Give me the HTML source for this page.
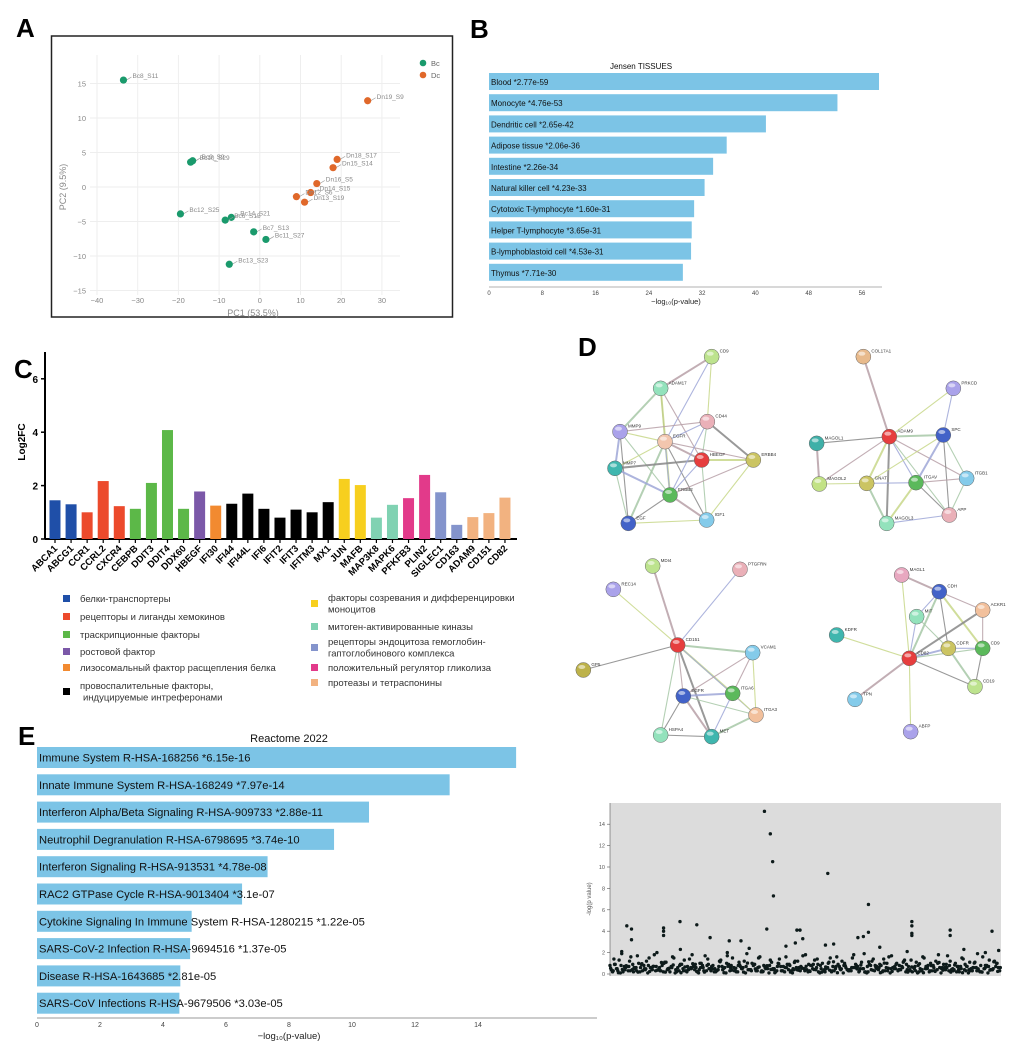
<!DOCTYPE html>
<html><head><meta charset="utf-8">
<style>
html,body{margin:0;padding:0;background:#fff;}
svg{display:block;font-family:"Liberation Sans","DejaVu Sans",sans-serif;}
</style></head>
<body>
<svg id="fig" width="1029" height="1055" viewBox="0 0 1029 1055" xmlns="http://www.w3.org/2000/svg">
<rect width="1029" height="1055" fill="#fff"/>
<g font-weight="bold" font-size="26" fill="#000">
<text x="16" y="37">A</text>
<text x="470" y="38">B</text>
<text x="14" y="378">C</text>
<text x="578" y="356">D</text>
<text x="18" y="745">E</text>
</g>
<g id="pA"></g>
<g id="pB"></g>
<g id="pC"></g>
<g id="pD"></g>
<g id="pE"></g>
<g id="pF"></g>
</svg>
<script>
// ---------- Panel A data ----------
const pcaNames = ["Bc8_S11","Bc10_S29","Bc9_S9","Bc12_S25","Bc14_S21","Bc6_S15","Bc7_S13","Bc11_S27","Bc13_S23","Dn19_S9","Dn18_S17","Dn15_S14","Dn16_S5","Dn14_S15","Dn12_S6","Dn13_S19"];
const pcaX = [-33.5,-17,-16.5,-19.5,-7,-8.5,-1.5,1.5,-7.5,26.5,19,18,14,12.5,9,11];
const pcaY = [15.5,3.6,3.8,-3.9,-4.4,-4.8,-6.5,-7.6,-11.2,12.5,4,2.8,0.5,-0.8,-1.4,-2.2];
const pcaGroup = ["Bc","Bc","Bc","Bc","Bc","Bc","Bc","Bc","Bc","Dc","Dc","Dc","Dc","Dc","Dc","Dc"];
const pcaXTicks = [-40,-30,-20,-10,0,10,20,30];
const pcaYTicks = [-15,-10,-5,0,5,10,15];
// ---------- Panel B data ----------
const tisNames = ["Blood","Monocyte","Dendritic cell","Adipose tissue","Intestine","Natural killer cell","Cytotoxic T-lymphocyte","Helper T-lymphocyte","B-lymphoblastoid cell","Thymus"];
const tisP = ["2.77e-59","4.76e-53","2.65e-42","2.06e-36","2.26e-34","4.23e-33","1.60e-31","3.65e-31","4.53e-31","7.71e-30"];
const tisVal = [58.56,52.32,41.58,35.69,33.65,32.37,30.80,30.44,30.34,29.11];
const tisTicks = [0,8,16,24,32,40,48,56];
// ---------- Panel C data ----------
const genes = ["ABCA1","ABCG1","CCR1","CCRL2","CXCR4","CEBPB","DDIT3","DDIT4","DDX60","HBEGF","IFI30","IFI44","IFI44L","IFI6","IFIT2","IFIT3","IFITM3","MX1","JUN","MAFB","MAP3K8","MAPK6","PFKFB3","PLIN2","SIGLEC1","CD163","ADAM9","CD151","CD82"];
const log2fc = [1.45,1.3,1.0,2.17,1.23,1.13,2.1,4.08,1.13,1.78,1.25,1.32,1.7,1.13,0.8,1.1,1.0,1.38,2.25,2.02,0.8,1.28,1.53,2.4,1.75,0.53,0.82,0.97,1.55];
const geneCat = [0,0,1,1,1,2,2,2,2,3,4,5,5,5,5,5,5,5,6,6,7,7,9,9,8,8,10,10,10];
const catColors = ["#1f4fa8","#ec4a2c","#5cb848","#7b58a8","#f28a30","#000000","#f7cf1e","#80d2b2","#8494cc","#e23a8a","#f2b280"];
const catLabels = [["белки-транспортеры"],["рецепторы и лиганды хемокинов"],["траскрипционные факторы"],["ростовой фактор"],["лизосомальный фактор расщепления белка"],["провоспалительные факторы,","индуцируемые интреферонами"],["факторы созревания и дифференцировки","моноцитов"],["митоген-активированные киназы"],["рецепторы эндоцитоза гемоглобин-","гаптоглобинового комплекса"],["положительный регулятор гликолиза"],["протеазы и тетраспонины"]];
const cTicks = [0,2,4,6];
// ---------- Panel E data ----------
const reNames = ["Immune System R-HSA-168256","Innate Immune System R-HSA-168249","Interferon Alpha/Beta Signaling R-HSA-909733","Neutrophil Degranulation R-HSA-6798695","Interferon Signaling R-HSA-913531","RAC2 GTPase Cycle R-HSA-9013404","Cytokine Signaling In Immune System R-HSA-1280215","SARS-CoV-2 Infection R-HSA-9694516","Disease R-HSA-1643685","SARS-CoV Infections R-HSA-9679506"];
const reP = ["6.15e-16","7.97e-14","2.88e-11","3.74e-10","4.78e-08","3.1e-07","1.22e-05","1.37e-05","2.81e-05","3.03e-05"];
const reVal = [15.21,13.10,10.54,9.43,7.32,6.51,4.91,4.86,4.55,4.52];
const reTicks = [0,2,4,6,8,10,12,14];
// ---------- Panel F data ----------
const hiPos = [395,410,416,418,557,661,43,55,55,137,137,137,179,222,256,305,335,356,401,478,486,493,474,661,772,772,772,772,870,870,977,994,634,648,551,572,30,180,300,450,690,760,905,960];
const hiVal = [15.2,13.1,10.5,7.3,9.4,6.5,4.5,4.2,3.2,4.3,4.0,3.6,4.9,4.6,3.4,3.1,3.1,2.4,4.2,4.1,4.1,3.3,2.9,3.9,4.5,4.9,3.6,3.8,4.1,3.6,4.0,2.2,3.4,3.5,2.7,2.8,2.1,2.3,2.0,2.6,2.5,2.1,2.3,2.0];
const bgA = [0.8,1.4,0.3,1.9,0.6,1.2,0.2,1.7,0.9,0.4,1.5,0.7,2.0,0.3,1.1,0.5,1.6,0.2,0.9,1.3,0.4,1.8,0.6,1.0,0.3,1.4,0.7,0.2,1.2,0.5,1.7,0.8,0.3,1.1,0.6,1.9,0.4,0.9,1.5,0.2,0.7,1.3,0.5,1.0,0.3,1.6,0.8,0.4,1.2,0.6,1.8,0.3,0.9,1.4,0.5,0.2,1.1,0.7,1.6,0.4,1.0,0.3,1.5,0.8,0.5,1.9,0.2,1.2,0.6,0.9,1.4,0.3,1.7,0.5,0.8,1.1,0.4,1.3,0.7,0.2,1.6,0.5,1.0,0.3,1.8,0.6,0.9,1.2,0.4,0.7,1.5,0.3,1.1,0.6,1.9,0.2,0.8,1.3,0.5,1.0];
const bgB = [0.4,0.9,1.3,0.2,0.7,1.6,0.5,1.0,0.3,1.2,0.6,1.8,0.4,0.8,1.1,0.2,1.5,0.6,0.9,0.3,1.4,0.7,0.2,1.0,1.7,0.5,0.8,0.3,1.3,0.6,0.9,1.5,0.2,0.7,1.2,0.4,1.0,0.3,1.6,0.8,0.5,1.1,0.2,1.4,0.7,0.9,0.3,1.2,0.6,1.7,0.4,0.8,1.3,0.2,1.0,0.5,1.5,0.3,0.9,1.2,0.6,0.4,1.8,0.7,1.1,0.2,0.9,1.4,0.5,0.8,0.3,1.6,0.6,1.0,0.4,1.3,0.7,0.2,1.1,0.5,1.5,0.8,0.3,1.2,0.6,0.9,1.7,0.4,1.0,0.2,1.4,0.7,0.5,1.1,0.3,1.6,0.8,0.4,1.2,0.6];
const bgC = [0.2,0.5,0.1,0.7,0.3,0.4,0.6,0.2,0.8,0.1,0.5,0.3,0.6,0.2,0.4,0.7,0.1,0.3,0.5,0.2,0.6,0.4,0.1,0.8,0.3,0.5,0.2,0.4,0.7,0.1,0.3,0.6,0.2,0.5,0.1,0.4,0.8,0.3,0.2,0.6,0.1,0.5,0.3,0.7,0.2,0.4,0.1,0.6,0.3,0.5,0.2,0.8,0.4,0.1,0.3,0.6,0.2,0.5,0.7,0.1,0.4,0.3,0.6,0.2,0.5,0.1,0.8,0.3,0.4,0.2,0.6,0.1,0.5,0.3,0.7,0.2,0.4,0.6,0.1,0.3,0.5,0.2,0.8,0.4,0.1,0.6,0.3,0.5,0.2,0.7,0.4,0.1,0.3,0.6,0.2,0.5,0.1,0.4,0.7,0.3];
const fTicks = [0,2,4,6,8,10,12,14];

const NS="http://www.w3.org/2000/svg";
function mk(parent,tag,attrs,txt){const e=document.createElementNS(NS,tag);for(const k in attrs)e.setAttribute(k,attrs[k]);if(txt!==undefined)e.textContent=txt;parent.appendChild(e);return e;}

// ===== Panel A =====
(function(){
const g=document.getElementById('pA');
const sx=v=>97+(v+40)*4.07, sy=v=>187-v*6.9;
let r=mk(g,'rect',{x:51.5,y:36,width:401,height:281,fill:'#fff',stroke:'#222','stroke-width':1.5});


pcaXTicks.forEach(t=>{mk(g,'line',{x1:sx(t),x2:sx(t),y1:55,y2:295,stroke:'#eee'});
 let tl=mk(g,'text',{x:sx(t),y:303,'font-size':7.5,fill:'#888','text-anchor':'middle'},String(t).replace('-','−'));
 
 });
pcaYTicks.forEach(t=>{mk(g,'line',{x1:90,x2:400,y1:sy(t),y2:sy(t),stroke:'#eee'});
 let tl=mk(g,'text',{x:86,y:sy(t)+3,'font-size':7.5,fill:'#888','text-anchor':'end'},String(t).replace('-','−'));
 
 });
let xt=mk(g,'text',{x:253,y:316,'font-size':9,fill:'#888','text-anchor':'middle'},'PC1 (53.5%)');


let yt=mk(g,'text',{x:0,y:0,'font-size':9,fill:'#888','text-anchor':'middle',transform:'translate(66,187) rotate(-90)'},'PC2 (9.5%)');


pcaX.forEach((v,i)=>{const c=pcaGroup[i]==='Bc'?'#1a9a6c':'#e0682a';
 const px=sx(v),py=sy(pcaY[i]);
 mk(g,'line',{x1:px+3,y1:py,x2:px+8,y2:py-3,stroke:'#999','stroke-width':0.6});
 let p=mk(g,'circle',{cx:px,cy:py,r:3.6,fill:c});
 
 
 let l=mk(g,'text',{x:px+9,y:py-2,'font-size':6.5,fill:'#888'},pcaNames[i]);
 
 });
[['Bc','#1a9a6c',63],['Dc','#e0682a',75]].forEach(a=>{
 let c=mk(g,'circle',{cx:423,cy:a[2],r:3.3,fill:a[1]});
 
 
 let t=mk(g,'text',{x:431,y:a[2]+3,'font-size':7.5,fill:'#666'},a[0]);
 
 });
})();

// ===== Panel B =====
(function(){
const g=document.getElementById('pB');
const sx=v=>489+v*6.66, top=73, pitch=21.2, bh=17;
let t=mk(g,'text',{x:641,y:69,'font-size':8,'text-anchor':'middle',fill:'#111'},'Jensen TISSUES');


tisVal.forEach((v,i)=>{const y=top+i*pitch;
 let b=mk(g,'rect',{x:489,y:y,width:sx(v)-489,height:bh,fill:'#7cc4e6'});
 
 
 let l=mk(g,'text',{x:491,y:y+12,'font-size':8,fill:'#111'},tisNames[i]+'  *'+tisP[i]);
 
 });
mk(g,'line',{x1:489,x2:882,y1:287,y2:287,stroke:'#666','stroke-width':0.6});
tisTicks.forEach(v=>{let tl=mk(g,'text',{x:sx(v),y:295,'font-size':6,fill:'#444','text-anchor':'middle'},v);
 
 });
let xl=mk(g,'text',{x:676,y:304,'font-size':7.5,fill:'#222','text-anchor':'middle'},'−log₁₀(p-value)');


})();

// ===== Panel C =====
(function(){
const g=document.getElementById('pC');
const y0=539, k=26.7, sx=i=>55+i*16.07, bw=11;
mk(g,'line',{x1:45,x2:45,y1:352,y2:539,stroke:'#000','stroke-width':2});
mk(g,'line',{x1:45,x2:517,y1:539,y2:539,stroke:'#000','stroke-width':2});
cTicks.forEach(v=>{mk(g,'line',{x1:41,x2:45,y1:y0-v*k,y2:y0-v*k,stroke:'#000','stroke-width':1.5});
 let tl=mk(g,'text',{x:38,y:y0-v*k+4,'font-size':10,'font-weight':'bold','text-anchor':'end'},v);
 
 });
let yt=mk(g,'text',{x:0,y:0,'font-size':10,'font-weight':'bold','text-anchor':'middle',transform:'translate(25,442) rotate(-90)'},'Log2FC');


log2fc.forEach((v,i)=>{
 let b=mk(g,'rect',{x:sx(i)-bw/2,y:y0-v*k,width:bw,height:v*k,fill:catColors[geneCat[i]]});
 
 
 mk(g,'line',{x1:sx(i),x2:sx(i),y1:539,y2:543,stroke:'#000','stroke-width':1.2});
 let l=mk(g,'text',{x:0,y:0,'font-size':9.5,'font-weight':'bold','text-anchor':'end',transform:`translate(${sx(i)+3},${549}) rotate(-45)`},genes[i]);
 
 });
const leftY=[599,617,635,652,668,686], rightY=[598,627,642,668,683];
const leftCats=[0,1,2,3,4,5], rightCats=[6,7,8,9,10];
function legend(cats,ys,sqx,tx){cats.forEach((c,j)=>{const lines=catLabels[c];const y=ys[j];
 const sqy= lines.length>1? y+2 : y-4;
 let s=mk(g,'rect',{x:sqx,y:sqy,width:7,height:7,fill:catColors[c]});
 
 
 lines.forEach((ln,m)=>{let t=mk(g,'text',{x:tx+(m>0&&c===5?3:0),y:y+3+m*11.5,'font-size':9.5,fill:'#333'},ln);
  
  });});}
legend(leftCats,leftY,63,80);
legend(rightCats,rightY,311,328);
})();

// ===== Panel D =====
(function(){
const g=document.getElementById('pD');
const Z=(x,y)=>[570+x/3,340+y/3];
const nets=[
 {n:[["CD9",425,50,"#bde38e"],["ADAM17",272,145,"#93e2bc"],["CD44",412,245,"#eab0b8"],["MMP9",150,275,"#aaa2ea"],["EGFR",285,305,"#f2c6ae"],["HBEGF",395,360,"#e63e3e"],["ERBB4",550,360,"#cbc462"],["MMP7",135,385,"#3fb6ae"],["ERBB2",300,465,"#5bb95b"],["EGF",175,550,"#4262c8"],["IGF1",410,540,"#84cbea"]],
  e:[[0,1],[0,2],[0,4],[1,3],[1,4],[1,5],[1,8],[2,4],[2,5],[2,6],[2,3],[3,4],[3,7],[3,8],[3,9],[4,5],[4,7],[4,8],[4,9],[4,10],[4,6],[5,6],[5,8],[5,10],[5,7],[6,8],[6,10],[7,8],[7,9],[8,9],[8,10],[9,10],[2,8]]},
 {n:[["COL17A1",880,50,"#e8ba8c"],["PRKCD",1150,145,"#aaa2ea"],["ADAM9",958,290,"#e63e3e"],["SPC",1120,285,"#4262c8"],["MAGOL1",740,310,"#3fb0a8"],["ITGB1",1190,415,"#84cbea"],["MAGOL2",748,432,"#c2e285"],["GNAT",890,430,"#cbc462"],["ITGAV",1038,428,"#5bb95b"],["APP",1138,525,"#eab0b8"],["MAGOL3",950,550,"#93e2bc"]],
  e:[[0,2],[1,2],[1,3],[2,3],[2,4],[2,6],[2,7],[2,8],[2,9],[2,10],[2,5],[3,7],[3,8],[3,5],[3,9],[4,6],[6,7],[7,8],[7,10],[8,9],[8,5],[8,10],[10,9],[5,9]]},
 {n:[["MDI4",248,678,"#bde38e"],["REC14",130,748,"#aaa2ea"],["PTGFRN",510,688,"#eab0b8"],["CD151",323,915,"#e63e3e"],["VCAM1",548,938,"#84cbea"],["GP5",40,990,"#bdb24a"],["EGFR",340,1068,"#4262c8"],["ITGA6",488,1060,"#5bb95b"],["ITGA3",558,1125,"#f2c09c"],["HSPA4",272,1185,"#93e2bc"],["MET",425,1190,"#3fb6ae"]],
  e:[[0,3],[1,3],[2,3],[3,4],[3,5],[3,6],[3,7],[3,8],[3,9],[3,10],[4,7],[4,8],[6,7],[6,8],[6,9],[6,10],[7,8],[7,10],[8,10],[9,10],[4,6]]},
 {n:[["MAGL1",995,705,"#e8a8c0"],["CDH",1108,755,"#4262c8"],["MIT",1040,830,"#93e2bc"],["ACKR1",1238,810,"#f2c09c"],["KDFR",800,885,"#3fb6ae"],["CD82",1018,955,"#e63e3e"],["CDFR",1135,925,"#cbc462"],["CD9",1238,925,"#5bb95b"],["CD19",1215,1040,"#bde38e"],["TPN",855,1078,"#84cbea"],["ABFP",1022,1175,"#aaa2ea"]],
  e:[[0,1],[0,5],[1,2],[1,5],[1,6],[1,3],[1,7],[2,5],[2,6],[3,5],[3,7],[4,5],[5,6],[5,7],[5,8],[5,9],[5,10],[6,7],[6,8],[7,8]]}
];
const ecol=["#b8a0a8","#c8d88a","#9fa8d8","#a8c8a8","#888"];
nets.forEach((net,ni)=>{
 const grp=mk(g,'g',{});
 
 
 net.e.forEach((ed,j)=>{const a=Z(net.n[ed[0]][1],net.n[ed[0]][2]),b=Z(net.n[ed[1]][1],net.n[ed[1]][2]);
  let l=mk(grp,'line',{x1:a[0],y1:a[1],x2:b[0],y2:b[1],stroke:ecol[j%5],'stroke-width':j%3===0?2:1.1,opacity:0.85});
  
  });
 net.n.forEach(nd=>{const p=Z(nd[1],nd[2]);
  let c=mk(grp,'circle',{cx:p[0],cy:p[1],r:7.5,fill:nd[3],stroke:'#666','stroke-width':0.5});
  
  
  mk(grp,'ellipse',{cx:p[0]-1.5,cy:p[1]-3,rx:3.5,ry:2,fill:'#fff',opacity:0.55});
  let t=mk(grp,'text',{x:p[0]+8,y:p[1]-4,'font-size':4.5,fill:'#333'},nd[0]);
  
  });
});
})();

// ===== Panel E =====
(function(){
const g=document.getElementById('pE');
const sx=v=>37+v*31.5, top=747, pitch=27.3, bh=21;
let t=mk(g,'text',{x:289,y:742,'font-size':11,'text-anchor':'middle',fill:'#111'},'Reactome 2022');


reVal.forEach((v,i)=>{const y=top+i*pitch;
 let b=mk(g,'rect',{x:37,y:y,width:sx(v)-37,height:bh,fill:'#7cc4e6'});
 
 
 let l=mk(g,'text',{x:39,y:y+14.5,'font-size':11.2,fill:'#111'},reNames[i]+'  *'+reP[i]);
 
 });
mk(g,'line',{x1:37,x2:597,y1:1018,y2:1018,stroke:'#777','stroke-width':0.7});
reTicks.forEach(v=>{let tl=mk(g,'text',{x:sx(v),y:1027,'font-size':7,fill:'#444','text-anchor':'middle'},v);
 
 });
let xl=mk(g,'text',{x:289,y:1039,'font-size':9.5,fill:'#222','text-anchor':'middle'},'−log₁₀(p-value)');


})();

// ===== Panel F =====
(function(){
const g=document.getElementById('pF');
const sx=p=>610+p/1000*391, sy=v=>974-v*10.7;
let bg=mk(g,'rect',{x:610,y:803,width:391,height:173,fill:'#dcdcdc'});


mk(g,'line',{x1:610,x2:610,y1:803,y2:976,stroke:'#555','stroke-width':0.6});
fTicks.forEach(v=>{mk(g,'line',{x1:607,x2:610,y1:sy(v),y2:sy(v),stroke:'#555','stroke-width':0.6});
 let tl=mk(g,'text',{x:605,y:sy(v)+2,'font-size':5.5,fill:'#555','text-anchor':'end'},v);
 
 });
let yt=mk(g,'text',{x:0,y:0,'font-size':6,fill:'#555','text-anchor':'middle',transform:'translate(591,899) rotate(-90)'},'-log(p value)');


function dot(p,v){let c=mk(g,'circle',{cx:sx(p),cy:sy(v),r:1.7,fill:'#0d1a1a'});
 
 }
bgA.forEach((v,i)=>dot(i*10,v));
bgB.forEach((v,i)=>dot(i*10+3.3,v));
bgC.forEach((v,i)=>dot(i*10+6.6,v));
bgC.forEach((v,i)=>dot(i*10+1.6,bgA[(i+37)%100]*0.6));
bgB.forEach((v,i)=>dot(i*10+8.2,bgC[(i+53)%100]+0.2));
hiPos.forEach((p,i)=>dot(p,hiVal[i]));
})();
</script>
</body></html>
